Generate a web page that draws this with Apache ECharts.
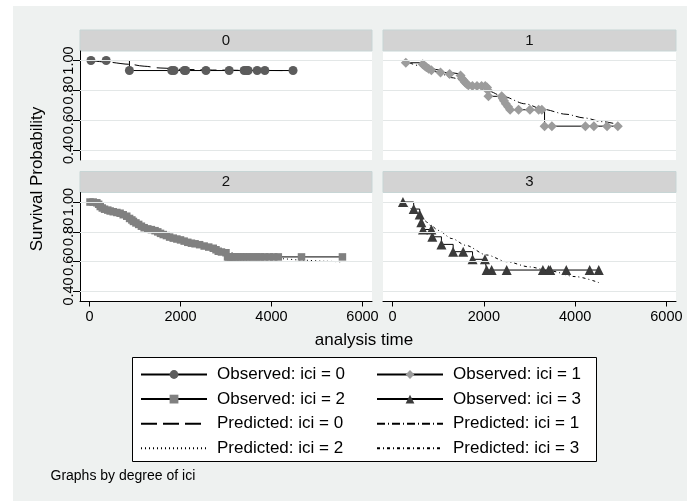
<!DOCTYPE html>
<html><head><meta charset="utf-8">
<script src="https://cdn.jsdelivr.net/npm/echarts@6/dist/echarts.min.js"></script>
<style>html,body{margin:0;padding:0;background:#fff}#c{width:687px;height:501px}</style>
</head><body><div id="c"></div>
<script>
const FONT = 'Liberation Sans, Arial, Helvetica, sans-serif';
const panelLabels = ['0', '1', '2', '3'];
const xTicks = [0, 2000, 4000, 6000];
const yTicks = [0.4, 0.6, 0.8, 1.0];
const xAxisTitle = 'analysis time';
const yAxisTitle = 'Survival Probability';
const noteText = 'Graphs by degree of ici';
const observedNames = ['Observed: ici = 0', 'Observed: ici = 1', 'Observed: ici = 2', 'Observed: ici = 3'];
const predictedNames = ['Predicted: ici = 0', 'Predicted: ici = 1', 'Predicted: ici = 2', 'Predicted: ici = 3'];

// Observed Kaplan-Meier estimates [time, survival]
const obs0 = [[31,1.0],[366,1.0],[877,0.933],[1807,0.933],[1857,0.933],[2083,0.933],[2114,0.933],[2559,0.933],[3070,0.933],[3399,0.933],[3452,0.933],[3487,0.933],[3685,0.933],[3854,0.933],[4474,0.933]];
const obs1 = [[290,0.985],[660,0.975],[700,0.965],[740,0.955],[790,0.945],[850,0.935],[1050,0.92],[1250,0.91],[1490,0.9],[1520,0.88],[1550,0.87],[1585,0.855],[1620,0.845],[1660,0.835],[1750,0.83],[1850,0.83],[1950,0.83],[2030,0.83],[2070,0.82],[2085,0.8],[2100,0.76],[2390,0.76],[2415,0.745],[2440,0.73],[2480,0.71],[2530,0.69],[2575,0.67],[2760,0.67],[3010,0.67],[3200,0.67],[3270,0.67],[3330,0.56],[3490,0.56],[4225,0.56],[4410,0.56],[4700,0.56],[4935,0.56]];
const obs2 = [[10,1.0],[80,1.0],[160,0.995],[200,0.985],[235,0.97],[280,0.96],[330,0.952],[400,0.946],[453,0.94],[520,0.935],[600,0.93],[672,0.925],[740,0.915],[818,0.905],[880,0.89],[930,0.88],[965,0.87],[1020,0.86],[1080,0.85],[1140,0.838],[1200,0.828],[1280,0.82],[1360,0.815],[1440,0.808],[1500,0.8],[1560,0.79],[1620,0.782],[1690,0.775],[1760,0.765],[1840,0.758],[1920,0.752],[2000,0.746],[2080,0.738],[2160,0.73],[2240,0.724],[2320,0.72],[2420,0.714],[2520,0.705],[2620,0.698],[2720,0.69],[2780,0.68],[2830,0.67],[2900,0.665],[3000,0.66],[3034,0.632],[3060,0.632],[3100,0.632],[3150,0.632],[3200,0.632],[3260,0.632],[3320,0.632],[3380,0.632],[3450,0.632],[3520,0.632],[3600,0.632],[3680,0.632],[3760,0.632],[3850,0.632],[3950,0.632],[4050,0.632],[4150,0.632],[4660,0.632],[5560,0.632]];
const obs3 = [[227,1.0],[462,0.953],[594,0.916],[630,0.864],[667,0.816],[850,0.816],[871,0.767],[1070,0.716],[1327,0.667],[1547,0.667],[1752,0.616],[2024,0.616],[2060,0.544],[2170,0.544],[2500,0.544],[3293,0.544],[3418,0.544],[3455,0.544],[3806,0.544],[4319,0.544],[4517,0.544]];

// Predicted (model) survival [time, survival]
const pred0 = [[31,1.0],[366,0.99],[877,0.975],[1200,0.962],[1550,0.95],[2100,0.94],[2800,0.936],[3500,0.934],[4474,0.932]];
const pred1 = [[286,0.995],[600,0.965],[960,0.925],[1300,0.885],[1700,0.845],[2100,0.795],[2430,0.758],[2900,0.71],[3300,0.673],[3800,0.64],[4200,0.615],[4600,0.59],[4935,0.572]];
const pred2 = [[10,1.0],[250,0.975],[500,0.945],[800,0.905],[1100,0.85],[1500,0.8],[2000,0.745],[2500,0.705],[3000,0.665],[3500,0.635],[4000,0.625],[4200,0.62],[4700,0.61],[5200,0.603],[5560,0.598]];
const pred3 = [[227,1.0],[450,0.95],[700,0.875],[850,0.84],[1000,0.81],[1300,0.755],[1600,0.71],[2060,0.645],[2500,0.6],[3000,0.565],[3455,0.538],[4000,0.5],[4517,0.46]];

const observed = [obs0, obs1, obs2, obs3];
const predicted = [pred0, pred1, pred2, pred3];
const markerSymbols = ['circle', 'diamond', 'rect', 'triangle'];
const markerSizes = [9, 10, 7.5, 10];
const markerColors = ['#5c5c5c', '#9c9c9c', '#808080', '#3a3a3a'];
const predDash = [[16, 6], [8, 3, 1, 3], [1, 3], [3, 3, 1, 3]];

const grids = [
  {left: 80, top: 51, width: 292, height: 109},
  {left: 383, top: 51, width: 293, height: 109},
  {left: 80, top: 192.5, width: 292, height: 109},
  {left: 383, top: 192.5, width: 293, height: 109}
];

const xAxes = grids.map((g, i) => ({
  gridIndex: i, type: 'value', min: -210, max: 6210, show: i >= 2,
  axisLine: {show: true, onZero: false, lineStyle: {color: '#000', width: 1}},
  axisTick: {show: true, length: 5, customValues: xTicks, lineStyle: {color: '#000'}},
  axisLabel: {show: true, customValues: xTicks, fontSize: 14.5, color: '#000', margin: 8, fontFamily: FONT,
    formatter: v => String(Math.round(v))},
  splitLine: {show: false}
}));
const yAxes = grids.map((g, i) => ({
  gridIndex: i, type: 'value', min: 0.333, max: 1.064, show: i % 2 === 0,
  axisLine: {show: true, onZero: false, lineStyle: {color: '#000', width: 1}},
  axisTick: {show: true, length: 7, customValues: yTicks, lineStyle: {color: '#000'}},
  axisLabel: {show: true, customValues: yTicks, rotate: 90, fontSize: 14.5, color: '#000', margin: 4, fontFamily: FONT,
    formatter: v => Number(v).toFixed(2)},
  splitLine: {show: false}
}));

const series = [];
grids.forEach((g, i) => {
  series.push({
    type: 'line', data: [], xAxisIndex: i, yAxisIndex: i, silent: true, z: 1,
    markLine: {silent: true, symbol: ['none', 'none'], label: {show: false}, animation: false,
      lineStyle: {color: '#e3e7e7', width: 1, type: 'solid'},
      emphasis: {disabled: true},
      data: yTicks.map(v => ({yAxis: v}))}
  });
});
grids.forEach((g, i) => {
  series.push({
    type: 'line', name: predictedNames[i], data: predicted[i], xAxisIndex: i, yAxisIndex: i,
    symbol: 'none', smooth: 0.3, smoothMonotone: 'x', z: 2,
    lineStyle: {color: '#000', width: 1, type: predDash[i]},
    itemStyle: {color: '#000'}, emphasis: {disabled: true}
  });
});
grids.forEach((g, i) => {
  series.push({
    type: 'line', name: observedNames[i], data: observed[i], xAxisIndex: i, yAxisIndex: i,
    step: 'end', symbol: markerSymbols[i], symbolSize: markerSizes[i], showSymbol: true, showAllSymbol: true, z: 3,
    lineStyle: {color: '#000', width: 1},
    itemStyle: {color: markerColors[i]}, emphasis: {disabled: true}
  });
});

function legendCol(names, left) {
  return {
    orient: 'vertical', left: left, top: 366, padding: 0,
    itemWidth: 66, itemHeight: 11, itemGap: 7.6, selectedMode: false,
    data: names.map(n => n.startsWith('Predicted') ? {name: n, itemStyle: {opacity: 0}} : {name: n}),
    textStyle: {fontSize: 17, color: '#000', lineHeight: 11, padding: [0, 0, 0, 5], fontFamily: FONT}
  };
}

const graphic = [
  {type: 'rect', z: -10, shape: {x: 13, y: 6, width: 674, height: 495}, style: {fill: '#eef1f0'}}
];
grids.forEach((g, i) => {
  graphic.push({type: 'rect', z: -5, shape: {x: g.left, y: g.top, width: g.width, height: g.height}, style: {fill: '#ffffff'}});
  graphic.push({type: 'rect', z: -5, shape: {x: g.left, y: g.top - 21, width: g.width, height: 21},
    style: {fill: '#d3d3d3', stroke: '#c7d5d5', lineWidth: 1}});
  graphic.push({type: 'text', z: 5, x: g.left + g.width / 2, y: g.top - 10.5,
    style: {text: panelLabels[i], fontSize: 15, fill: '#111', align: 'center', verticalAlign: 'middle',
      textAlign: 'center', textVerticalAlign: 'middle', fontFamily: FONT}});
});
graphic.push({type: 'text', z: 5, x: 364, y: 340.7,
  style: {text: xAxisTitle, fontSize: 17, fill: '#000', align: 'center', verticalAlign: 'middle', textAlign: 'center', textVerticalAlign: 'middle', fontFamily: FONT}});
graphic.push({type: 'text', z: 5, x: 37, y: 179, rotation: Math.PI / 2,
  style: {text: yAxisTitle, fontSize: 17, fill: '#000', align: 'center', verticalAlign: 'middle', textAlign: 'center', textVerticalAlign: 'middle', fontFamily: FONT}});
graphic.push({type: 'rect', z: 1, shape: {x: 132.5, y: 357.5, width: 464, height: 104},
  style: {fill: '#ffffff', stroke: '#000', lineWidth: 1}});
graphic.push({type: 'text', z: 5, x: 50.5, y: 476,
  style: {text: noteText, fontSize: 14, fill: '#000', align: 'left', verticalAlign: 'middle', textAlign: 'left', textVerticalAlign: 'middle', fontFamily: FONT}});

const chart = echarts.init(document.getElementById('c'), null, {renderer: 'canvas'});
chart.setOption({
  animation: false,
  backgroundColor: '#ffffff',
  textStyle: {fontFamily: FONT},
  grid: grids.map(g => Object.assign({containLabel: false}, g)),
  xAxis: xAxes,
  yAxis: yAxes,
  legend: [
    legendCol([observedNames[0], observedNames[2], predictedNames[0], predictedNames[2]], 140),
    legendCol([observedNames[1], observedNames[3], predictedNames[1], predictedNames[3]], 376)
  ],
  graphic: graphic,
  series: series
});
</script></body></html>
